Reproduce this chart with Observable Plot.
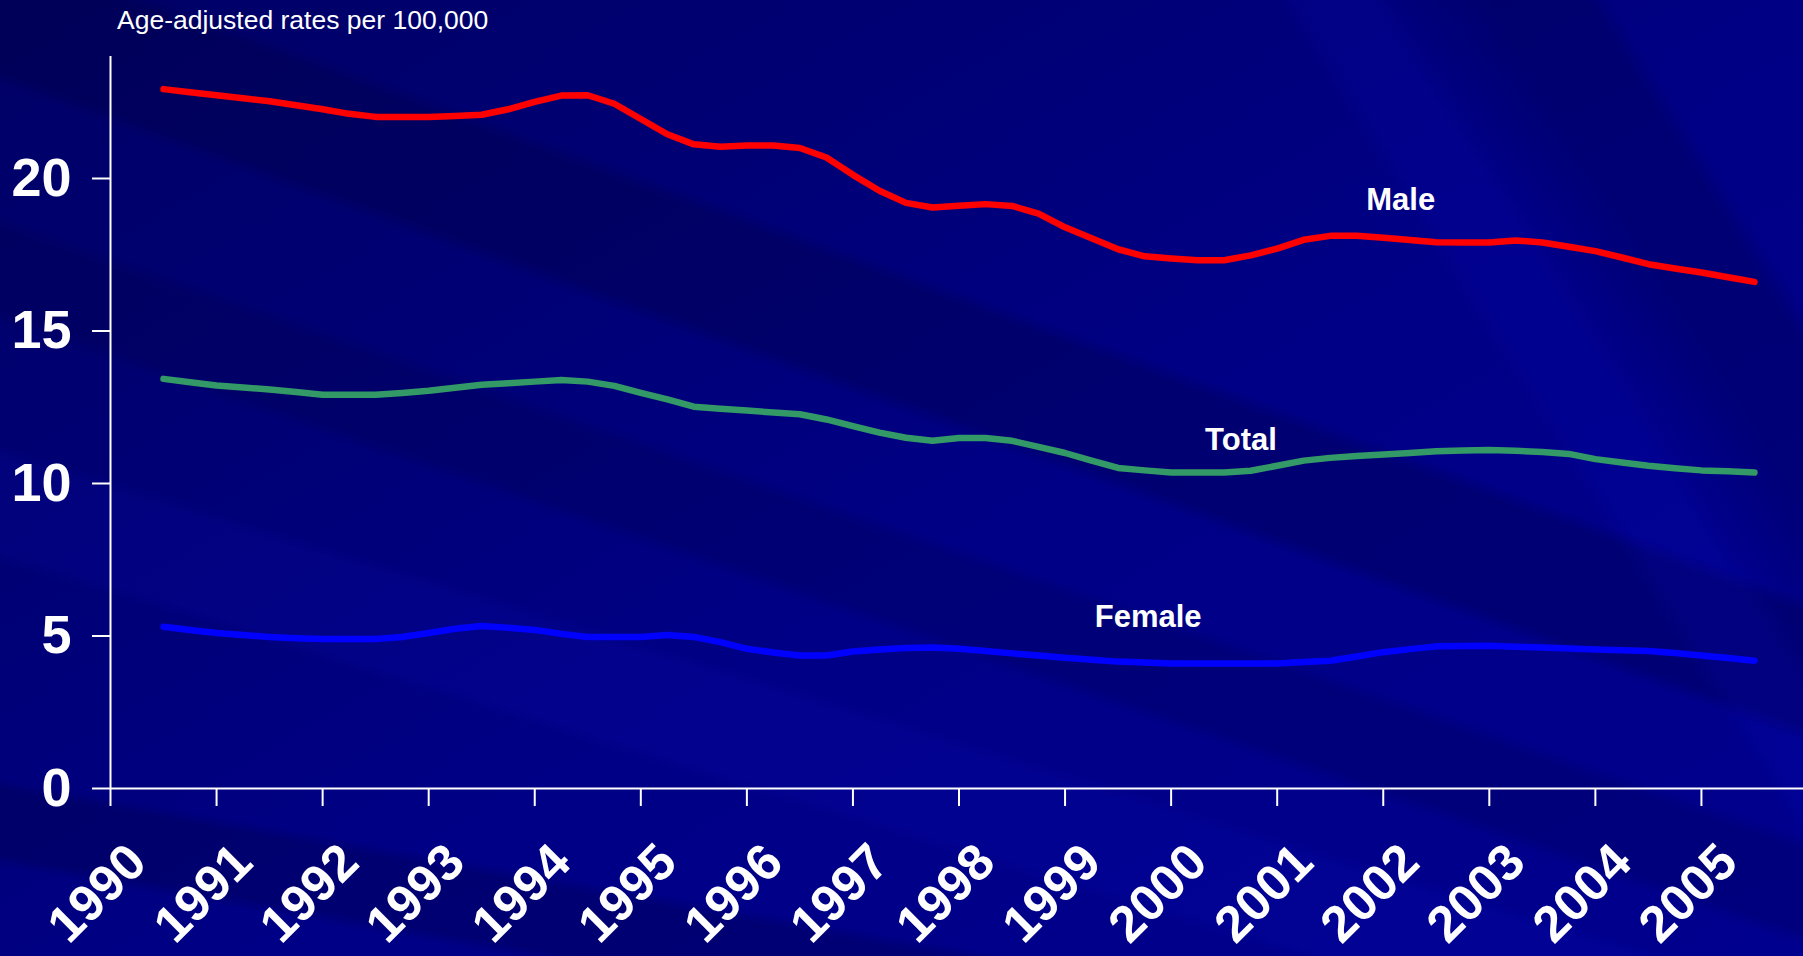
<!DOCTYPE html>
<html>
<head>
<meta charset="utf-8">
<script src="https://cdn.jsdelivr.net/npm/d3@7"></script>
<script src="https://cdn.jsdelivr.net/npm/@observablehq/plot@0.6"></script>
<style>
html, body { margin: 0; padding: 0; width: 1803px; height: 956px; overflow: hidden; }
body {
  font-family: Arial, "Liberation Sans", sans-serif;
  background-color: #000088;
  background-image:
    linear-gradient(58deg, rgba(0,0,0,0) 78%, rgba(20,20,255,0.08) 79%, rgba(20,20,255,0.08) 82%, rgba(0,0,0,0) 83%, rgba(0,0,50,0.22) 87%, rgba(0,0,50,0.22) 91%, rgba(0,0,0,0) 92%),
    linear-gradient(20deg, rgba(0,0,0,0) 54%, rgba(0,0,40,0.22) 55%, rgba(0,0,40,0.22) 62%, rgba(0,0,0,0) 63%),
    linear-gradient(19deg, rgba(0,0,0,0) 40%, rgba(0,0,40,0.16) 41%, rgba(0,0,40,0.16) 46%, rgba(0,0,0,0) 47%),
    linear-gradient(17deg, rgba(0,0,0,0) 26%, rgba(30,30,255,0.07) 27%, rgba(30,30,255,0.07) 33%, rgba(0,0,0,0) 34%),
    linear-gradient(10deg, rgba(0,0,0,0) 7%, rgba(0,0,40,0.22) 8%, rgba(0,0,40,0.22) 13%, rgba(0,0,0,0) 14%),
    linear-gradient(150deg, #000066 0%, #000074 28%, #000086 55%, #00008e 100%);
}
#title { height: 40px; line-height: 40px; padding-left: 117px; color: #ffffff; font-size: 26.5px; }
#chart { width: 1803px; height: 916px; }
</style>
</head>
<body>
<div id="title">Age-adjusted rates per 100,000</div>
<div id="chart"></div>
<script>
// Category / tick arrays
const years = [1990, 1991, 1992, 1993, 1994, 1995, 1996, 1997, 1998, 1999, 2000, 2001, 2002, 2003, 2004, 2005];
const tickBoundaries = [1989.5, 1990.5, 1991.5, 1992.5, 1993.5, 1994.5, 1995.5, 1996.5, 1997.5, 1998.5, 1999.5, 2000.5, 2001.5, 2002.5, 2003.5, 2004.5];
const yTicks = [0, 5, 10, 15, 20];

// Quarter-year sample points
const t = [
  1990.00, 1990.25, 1990.50, 1990.75, 1991.00, 1991.25, 1991.50, 1991.75,
  1992.00, 1992.25, 1992.50, 1992.75, 1993.00, 1993.25, 1993.50, 1993.75,
  1994.00, 1994.25, 1994.50, 1994.75, 1995.00, 1995.25, 1995.50, 1995.75,
  1996.00, 1996.25, 1996.50, 1996.75, 1997.00, 1997.25, 1997.50, 1997.75,
  1998.00, 1998.25, 1998.50, 1998.75, 1999.00, 1999.25, 1999.50, 1999.75,
  2000.00, 2000.25, 2000.50, 2000.75, 2001.00, 2001.25, 2001.50, 2001.75,
  2002.00, 2002.25, 2002.50, 2002.75, 2003.00, 2003.25, 2003.50, 2003.75,
  2004.00, 2004.25, 2004.50, 2004.75, 2005.00
];

const male = [
  22.93, 22.83, 22.73, 22.63, 22.53, 22.40, 22.27, 22.12,
  22.02, 22.02, 22.02, 22.05, 22.09, 22.27, 22.51, 22.72,
  22.73, 22.45, 21.95, 21.45, 21.12, 21.04, 21.08, 21.08,
  21.00, 20.69, 20.12, 19.60, 19.20, 19.05, 19.11, 19.16,
  19.10, 18.85, 18.40, 18.04, 17.68, 17.45, 17.38, 17.32,
  17.32, 17.48, 17.70, 17.99, 18.12, 18.12, 18.06, 17.98,
  17.91, 17.90, 17.90, 17.97, 17.90, 17.76, 17.62, 17.41,
  17.19, 17.05, 16.92, 16.76, 16.61
];

const total = [
  13.43, 13.32, 13.21, 13.15, 13.08, 13.00, 12.91, 12.91,
  12.91, 12.97, 13.04, 13.14, 13.24, 13.29, 13.34, 13.39,
  13.34, 13.20, 12.97, 12.76, 12.52, 12.45, 12.39, 12.33,
  12.27, 12.10, 11.88, 11.67, 11.50, 11.40, 11.49, 11.49,
  11.40, 11.20, 11.00, 10.75, 10.51, 10.43, 10.36, 10.36,
  10.36, 10.42, 10.58, 10.75, 10.84, 10.90, 10.95, 11.00,
  11.06, 11.08, 11.10, 11.07, 11.03, 10.97, 10.80, 10.69,
  10.58, 10.50, 10.43, 10.40, 10.36
];

const female = [
  5.30, 5.20, 5.10, 5.03, 4.97, 4.93, 4.90, 4.90,
  4.90, 4.97, 5.10, 5.24, 5.33, 5.27, 5.20, 5.07,
  4.97, 4.97, 4.97, 5.03, 4.97, 4.80, 4.58, 4.46,
  4.36, 4.36, 4.49, 4.56, 4.61, 4.62, 4.58, 4.51,
  4.43, 4.36, 4.29, 4.22, 4.16, 4.13, 4.10, 4.10,
  4.10, 4.10, 4.10, 4.15, 4.19, 4.33, 4.47, 4.57,
  4.66, 4.67, 4.68, 4.65, 4.62, 4.59, 4.56, 4.53,
  4.51, 4.44, 4.36, 4.28, 4.19
];

const seriesNames = ["Male", "Total", "Female"];
const seriesColors = ["#ff0000", "#339966", "#0000ff"];

// Series label anchors (data units)
const labelNames = ["Male", "Total", "Female"];
const labelX = [2001.34, 1999.82, 1998.78];
const labelY = [19.28, 11.44, 5.61];

// Build tidy table
const table = [];
[male, total, female].forEach((vals, k) => {
  vals.forEach((v, i) => table.push({series: seriesNames[k], t: t[i], v}));
});
const labels = labelNames.map((n, i) => ({name: n, x: labelX[i], y: labelY[i]}));

const FONT = "Arial, 'Liberation Sans', sans-serif";

const chart = Plot.plot({
  width: 1803,
  height: 916,
  marginLeft: 110,
  marginRight: 0,
  marginTop: 16,
  marginBottom: 168,
  style: {background: "transparent", color: "white", fontFamily: FONT, overflow: "visible"},
  x: {domain: [1989.5, 2005.5], range: [110, 1807], axis: null},
  y: {domain: [0, 24], axis: null},
  color: {domain: seriesNames, range: seriesColors},
  marks: [
    Plot.ruleX([1989.5], {y1: 0, y2: 24, stroke: "white", strokeWidth: 2}),
    Plot.ruleY([0], {x1: 1989.5, x2: 2005.5, stroke: "white", strokeWidth: 2}),
    Plot.axisY({ticks: yTicks, tickSize: 18, tickPadding: 21, fontSize: 54, fontWeight: "bold", fontFamily: FONT, stroke: "white", strokeWidth: 2, fill: "white", label: null}),
    Plot.ruleX(tickBoundaries, {x: d => d, y1: d => 0, y2: d => 0, insetBottom: -18, stroke: "white", strokeWidth: 2}),
    Plot.lineY(table, {x: "t", y: "v", z: "series", stroke: "series", strokeWidth: 6.5, strokeLinecap: "round", strokeLinejoin: "round"}),
    Plot.text(years, {x: d => d, y: d => 0, text: d => String(d), rotate: -45, textAnchor: "end", dx: -26, dy: 65, fontSize: 51, fontWeight: "bold", fontFamily: FONT, fill: "white"}),
    Plot.text(labels, {x: "x", y: "y", text: "name", textAnchor: "start", fontSize: 31, fontWeight: "bold", fontFamily: FONT, fill: "white"})
  ]
});
document.getElementById("chart").appendChild(chart);
</script>
</body>
</html>
